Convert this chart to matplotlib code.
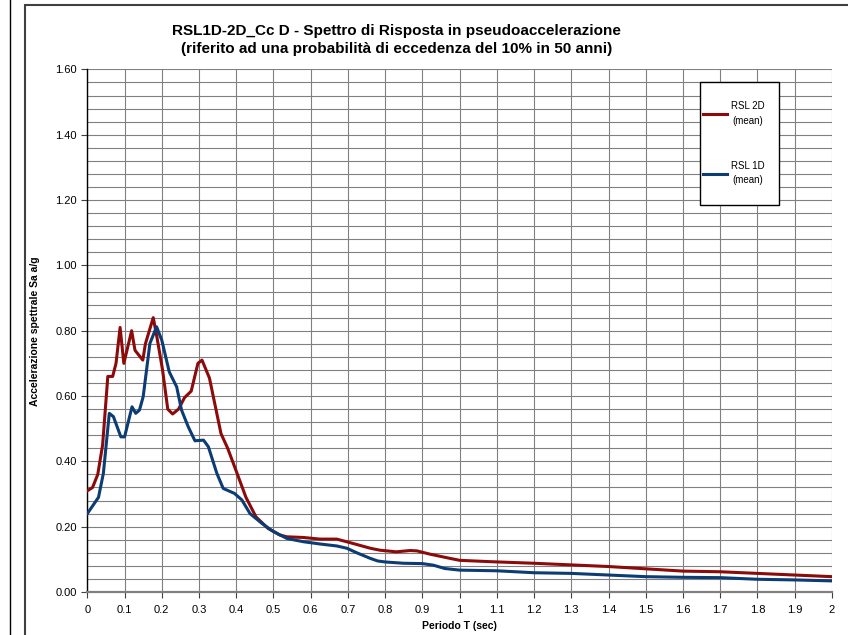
import matplotlib
matplotlib.use("Agg")
import matplotlib.pyplot as plt
from matplotlib.patches import Rectangle
from matplotlib.lines import Line2D
from matplotlib.ticker import MultipleLocator, FormatStrFormatter

plt.rcParams["font.family"] = ["Liberation Sans", "DejaVu Sans"]

# periodo T (sec) e accelerazione spettrale Sa (g) - RSL 2D (mean)
t_2d = [0, 0.014, 0.028, 0.041, 0.055, 0.068, 0.077, 0.088, 0.098, 0.119, 0.128, 0.149,
        0.156, 0.177, 0.187, 0.202, 0.216, 0.229, 0.245, 0.261, 0.279, 0.297, 0.308, 0.328,
        0.359, 0.377, 0.40, 0.426, 0.453, 0.485, 0.516, 0.536, 0.58, 0.625, 0.67, 0.706,
        0.76, 0.786, 0.83, 0.867, 0.885, 0.92, 0.974, 1.0, 1.08, 1.2, 1.3, 1.4, 1.5, 1.6,
        1.7, 1.8, 1.9, 2.0]
sa_2d = [0.31, 0.32, 0.36, 0.45, 0.66, 0.66, 0.70, 0.81, 0.70, 0.80, 0.74, 0.71,
         0.76, 0.84, 0.78, 0.68, 0.56, 0.545, 0.56, 0.595, 0.615, 0.70, 0.71, 0.655,
         0.485, 0.44, 0.37, 0.29, 0.23, 0.195, 0.175, 0.169, 0.167, 0.162, 0.162, 0.151,
         0.134, 0.128, 0.123, 0.127, 0.126, 0.116, 0.103, 0.097, 0.093, 0.088, 0.083, 0.078,
         0.071, 0.064, 0.062, 0.057, 0.052, 0.047]

# RSL 1D (mean)
t_1d = [0, 0.012, 0.03, 0.043, 0.059, 0.07, 0.09, 0.1, 0.12, 0.13, 0.14, 0.15, 0.168,
        0.186, 0.2, 0.22, 0.24, 0.253, 0.271, 0.289, 0.312, 0.325, 0.348, 0.365, 0.395,
        0.415, 0.437, 0.469, 0.496, 0.517, 0.536, 0.58, 0.625, 0.67, 0.697, 0.724, 0.76,
        0.78, 0.8, 0.85, 0.9, 0.93, 0.96, 1.0, 1.1, 1.2, 1.3, 1.4, 1.5, 1.6, 1.7, 1.8,
        1.9, 2.0]
sa_1d = [0.24, 0.26, 0.29, 0.363, 0.547, 0.537, 0.475, 0.475, 0.567, 0.547, 0.557, 0.598,
         0.761, 0.812, 0.771, 0.674, 0.628, 0.557, 0.506, 0.463, 0.465, 0.445, 0.363, 0.317,
         0.302, 0.282, 0.24, 0.21, 0.188, 0.175, 0.164, 0.154, 0.147, 0.141, 0.134, 0.12,
         0.103, 0.095, 0.092, 0.088, 0.087, 0.082, 0.072, 0.067, 0.065, 0.059, 0.057, 0.052,
         0.047, 0.045, 0.044, 0.039, 0.037, 0.034]

red = "#8c0a0a"
blue = "#0b3c74"

fig = plt.figure(figsize=(8.48, 6.35), dpi=100)
ax = fig.add_axes([0.103, 0.0677, 0.878, 0.823])

# cornice esterna del grafico
fig.add_artist(Rectangle((25 / 848, -0.05), 1.0, 1 - 5 / 635 + 0.05, transform=fig.transFigure,
                         fill=False, edgecolor="#404040", linewidth=1.5))
fig.add_artist(Line2D([10 / 848, 10 / 848], [0, 1], transform=fig.transFigure,
                      color="black", linewidth=1.0))

ax.plot(t_2d, sa_2d, color=red, linewidth=2.2, label="RSL 2D\n(mean)", zorder=3)
ax.plot(t_1d, sa_1d, color=blue, linewidth=2.2, label="RSL 1D\n(mean)", zorder=3)

ax.set_xlim(0, 2)
ax.set_ylim(0, 1.6)
ax.xaxis.set_major_locator(MultipleLocator(0.1))
ax.xaxis.set_major_formatter(FormatStrFormatter("%g"))
ax.yaxis.set_major_locator(MultipleLocator(0.2))
ax.yaxis.set_minor_locator(MultipleLocator(0.04))
ax.yaxis.set_major_formatter(FormatStrFormatter("%.2f"))

ax.grid(which="major", axis="x", color="#808080", linewidth=0.8)
ax.grid(which="both", axis="y", color="#808080", linewidth=0.8)
ax.set_axisbelow(True)

ax.spines["top"].set_visible(False)
ax.spines["right"].set_visible(False)
ax.spines["left"].set_color("black")
ax.spines["left"].set_linewidth(1.0)
ax.spines["bottom"].set_color("#808080")
ax.spines["bottom"].set_linewidth(1.6)

ax.tick_params(axis="both", which="major", labelsize=8, length=4, width=0.8, color="#404040")
ax.tick_params(axis="y", which="minor", length=0)
ax.tick_params(axis="x", pad=5)

ax.set_xlabel("Periodo T (sec)", fontsize=7.5, fontweight="bold")
ax.set_ylabel("Accelerazione spettrale Sa a/g", fontsize=7.5, fontweight="bold")
ax.xaxis.set_label_coords(0.5, -0.056)
ax.yaxis.set_label_coords(-0.0635, 0.5)

fig.text(0.468, 1 - 40 / 635,
         "RSL1D-2D_Cc D - Spettro di Risposta in pseudoaccelerazione\n"
         "(riferito ad una probabilità di eccedenza del 10% in 50 anni)",
         ha="center", va="center", fontsize=11, fontweight="bold", linespacing=1.4)

# riquadro della legenda
ax.add_patch(Rectangle((0.8228, 0.7407), 0.106, 0.2354, transform=ax.transAxes,
                       facecolor="white", edgecolor="black", linewidth=1.0, zorder=4))
leg = ax.legend(loc="upper left", bbox_to_anchor=(0.8268, 0.940), frameon=False,
                fontsize=7, labelspacing=3.6, borderpad=0, borderaxespad=0,
                handlelength=2.5, handletextpad=0.4)
leg.set_zorder(5)
for t in leg.get_texts():
    t.set_multialignment("center")
    t.set_linespacing(1.6)

fig.savefig("out.png", dpi=100)
